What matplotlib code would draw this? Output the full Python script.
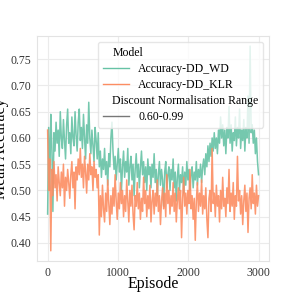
import numpy as np
import matplotlib
matplotlib.use("Agg")
import matplotlib.pyplot as plt
from matplotlib.lines import Line2D

# episodes sampled every 15 steps
episodes = np.arange(0, 3001, 15)

acc_dd_wd = [
    0.455, 0.620, 0.500, 0.645, 0.585, 0.460, 0.610, 0.575, 0.630, 0.590,
    0.615, 0.565, 0.650, 0.600, 0.580, 0.635, 0.595, 0.560, 0.625, 0.655,
    0.590, 0.610, 0.570, 0.640, 0.600, 0.585, 0.650, 0.605, 0.575, 0.630,
    0.655, 0.595, 0.620, 0.580, 0.645, 0.600, 0.560, 0.625, 0.590, 0.668,
    0.600, 0.570, 0.615, 0.585, 0.555, 0.620, 0.595, 0.560, 0.610, 0.545,
    0.575, 0.525, 0.560, 0.540, 0.580, 0.530, 0.555, 0.510, 0.570, 0.545,
    0.600, 0.630, 0.575, 0.540, 0.565, 0.520, 0.550, 0.580, 0.535, 0.560,
    0.500, 0.545, 0.575, 0.525, 0.555, 0.535, 0.580, 0.510, 0.545, 0.565,
    0.520, 0.550, 0.490, 0.540, 0.570, 0.525, 0.550, 0.505, 0.545, 0.575,
    0.530, 0.555, 0.515, 0.545, 0.500, 0.560, 0.530, 0.545, 0.505, 0.550,
    0.525, 0.570, 0.515, 0.540, 0.490, 0.530, 0.555, 0.510, 0.540, 0.520,
    0.470, 0.535, 0.555, 0.505, 0.530, 0.545, 0.500, 0.540, 0.520, 0.560,
    0.505, 0.535, 0.480, 0.525, 0.550, 0.500, 0.530, 0.515, 0.545, 0.495,
    0.535, 0.510, 0.555, 0.520, 0.540, 0.500, 0.530, 0.545, 0.505, 0.535,
    0.520, 0.555, 0.510, 0.540, 0.525, 0.550, 0.515, 0.545, 0.560, 0.530,
    0.570, 0.545, 0.585, 0.555, 0.590, 0.565, 0.600, 0.575, 0.610, 0.580,
    0.600, 0.570, 0.615, 0.590, 0.640, 0.600, 0.625, 0.585, 0.615, 0.570,
    0.620, 0.600, 0.660, 0.590, 0.625, 0.575, 0.610, 0.595, 0.640, 0.585,
    0.620, 0.600, 0.655, 0.580, 0.615, 0.595, 0.635, 0.575, 0.620, 0.600,
    0.680, 0.590, 0.775, 0.610, 0.625, 0.590, 0.615, 0.570, 0.600, 0.555,
    0.530,
]

acc_dd_klr = [
    0.615, 0.500, 0.560, 0.385, 0.540, 0.490, 0.555, 0.505, 0.530, 0.480,
    0.545, 0.515, 0.490, 0.535, 0.505, 0.550, 0.470, 0.525, 0.500, 0.540,
    0.515, 0.485, 0.530, 0.555, 0.505, 0.535, 0.465, 0.545, 0.520, 0.560,
    0.530, 0.580, 0.525, 0.550, 0.505, 0.565, 0.535, 0.495, 0.550, 0.520,
    0.570, 0.530, 0.545, 0.500, 0.555, 0.525, 0.540, 0.505, 0.530, 0.415,
    0.490, 0.450, 0.510, 0.465, 0.440, 0.495, 0.460, 0.520, 0.475, 0.435,
    0.490, 0.455, 0.505, 0.470, 0.530, 0.480, 0.445, 0.495, 0.465, 0.515,
    0.475, 0.500, 0.450, 0.490, 0.460, 0.520, 0.480, 0.440, 0.500, 0.470,
    0.510, 0.455, 0.425, 0.490, 0.470, 0.515, 0.465, 0.495, 0.445, 0.485,
    0.460, 0.525, 0.475, 0.500, 0.450, 0.490, 0.465, 0.510, 0.440, 0.480,
    0.500, 0.455, 0.495, 0.470, 0.520, 0.460, 0.490, 0.435, 0.480, 0.505,
    0.465, 0.495, 0.450, 0.530, 0.475, 0.500, 0.455, 0.490, 0.470, 0.515,
    0.460, 0.495, 0.440, 0.480, 0.505, 0.465, 0.500, 0.410, 0.485, 0.525,
    0.470, 0.495, 0.455, 0.500, 0.475, 0.540, 0.465, 0.490, 0.445, 0.485,
    0.405, 0.480, 0.515, 0.460, 0.495, 0.470, 0.520, 0.455, 0.490, 0.465,
    0.505, 0.445, 0.410, 0.485, 0.500, 0.460, 0.580, 0.475, 0.495, 0.450,
    0.510, 0.470, 0.490, 0.440, 0.500, 0.465, 0.525, 0.470, 0.485, 0.450,
    0.505, 0.475, 0.540, 0.460, 0.495, 0.470, 0.515, 0.445, 0.490, 0.470,
    0.565, 0.480, 0.500, 0.455, 0.490, 0.435, 0.480, 0.510, 0.460, 0.495,
    0.420, 0.485, 0.505, 0.465, 0.530, 0.475, 0.495, 0.455, 0.510, 0.470,
    0.490,
]

plt.rcParams['font.family'] = ['Liberation Serif', 'DejaVu Serif']

green = "#66c2a5"
orange = "#fc8d62"

fig = plt.figure(figsize=(2.99, 2.99), dpi=100)
ax = fig.add_axes([0.124, 0.127, 0.776, 0.753])

ax.plot(episodes, acc_dd_wd, color=green, lw=1.1, alpha=0.9)
ax.plot(episodes, acc_dd_klr, color=orange, lw=1.1, alpha=0.9)

ax.set_xticks([0, 1000, 2000, 3000])
ax.set_yticks(np.arange(0.40, 0.751, 0.05))
ax.yaxis.set_major_formatter(matplotlib.ticker.FormatStrFormatter('%.2f'))
ax.grid(True, color="#ebebeb", lw=0.8)
ax.set_axisbelow(True)
for s in ax.spines.values():
    s.set_color("#e3e3e3")
    s.set_linewidth(0.8)
ax.tick_params(length=0, labelsize=8.5, colors="#333333", pad=4)
ax.set_xlabel('Episode', fontsize=11.5, labelpad=-2)
ax.set_ylabel('Mean Accuracy', fontsize=11.5, labelpad=1)

handles = [Line2D([], [], visible=False),
           Line2D([], [], color=green, lw=1.0),
           Line2D([], [], color=orange, lw=1.0),
           Line2D([], [], visible=False),
           Line2D([], [], color="#555555", lw=1.0, alpha=0.8)]
labels = ['Model', 'Accuracy-DD_WD', 'Accuracy-DD_KLR',
          'Discount Normalisation Range', '0.60-0.99']
leg = ax.legend(handles, labels, loc='upper right', fontsize=8.5,
                frameon=True, framealpha=0.8, edgecolor="#e0e0e0",
                handlelength=2.2, handletextpad=0.8, labelspacing=0.35,
                borderpad=0.4)

# subtitles: no handle space, like seaborn does it
for col in leg._legend_handle_box.get_children():
    for row in col.get_children():
        draw_area, text_area = row.get_children()
        if not all(a.get_visible() for a in draw_area.get_children()):
            draw_area.set_width(0)

fig.savefig('out.png', dpi=100)
